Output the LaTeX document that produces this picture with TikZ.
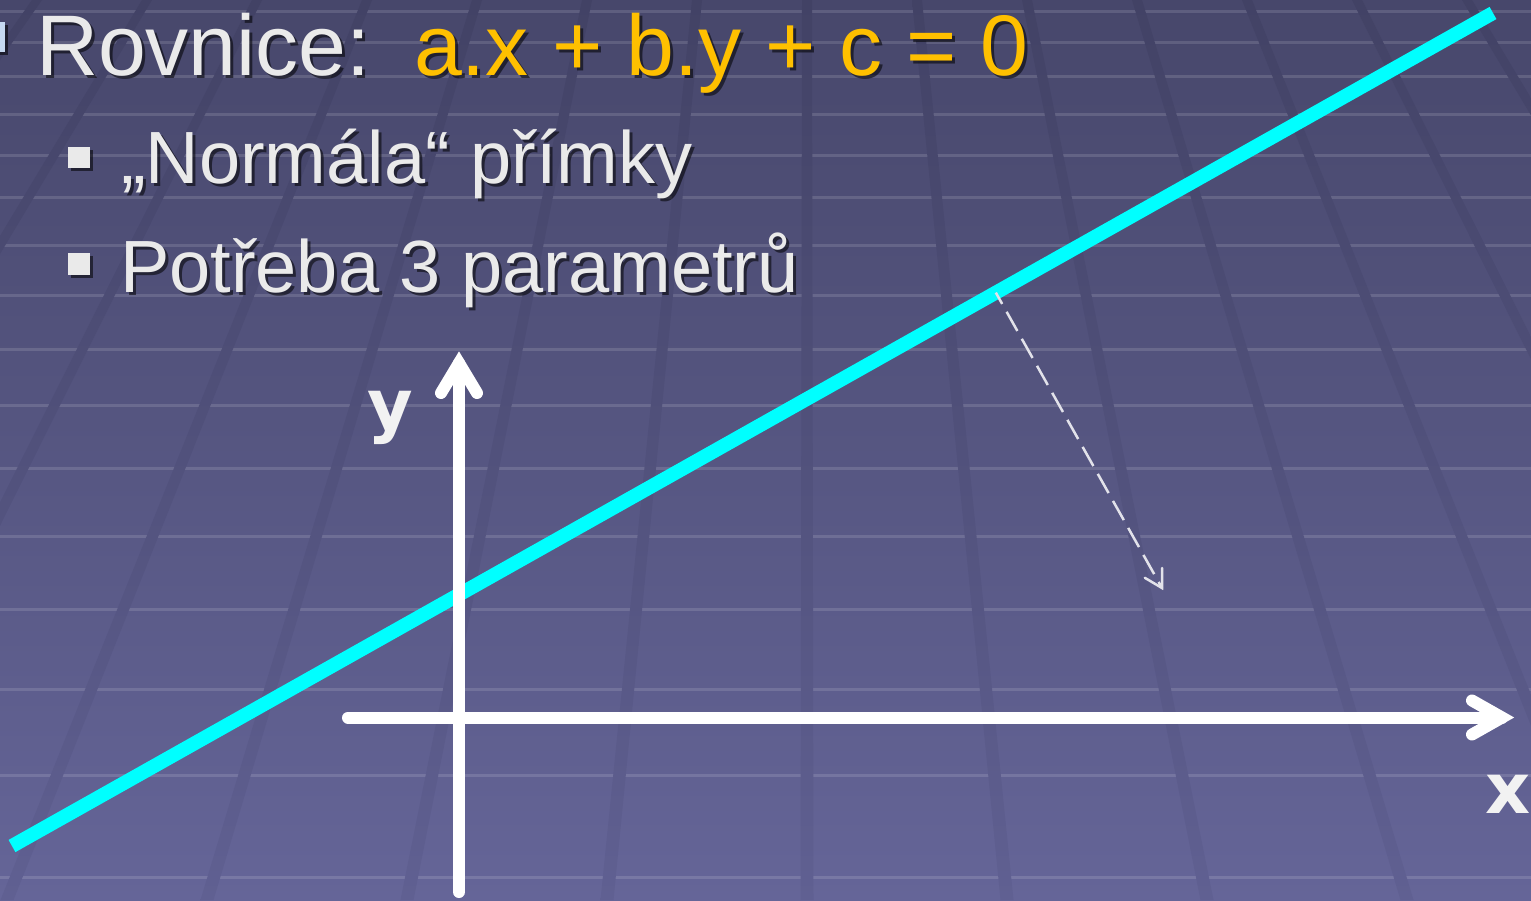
\documentclass[tikz,border=0pt]{standalone}
\usepackage{fontspec}
\setmainfont{Liberation Sans}
\newfontfamily\labfont{DejaVu Sans}
\definecolor{bgtop}{HTML}{47476B}
\definecolor{bgmid}{HTML}{575785}
\definecolor{bgbot}{HTML}{656598}
\definecolor{lntop}{HTML}{424265}
\definecolor{lnmid}{HTML}{52527D}
\definecolor{lnbot}{HTML}{606092}
\definecolor{txtc}{HTML}{EAEAEA}
\definecolor{orangec}{HTML}{FFC000}
\definecolor{cyanc}{HTML}{00FFFF}
\definecolor{dashc}{HTML}{E2E2EA}
\definecolor{bulletblue}{HTML}{C6D9F1}
\tikzset{
  hl/.style={white, opacity=0.13, line width=3pt},
  tiletrack/.style={top color=lntop, middle color=lnmid, bottom color=lnbot},
  txt/.style={anchor=base west, inner sep=0pt, outer sep=0pt, text=txtc},
  shadowtxt/.style={anchor=base west, inner sep=0pt, outer sep=0pt, text=black, opacity=0.55},
  titlefont/.style={font=\fontsize{86}{90}\selectfont},
  subfont/.style={font=\fontsize{74}{78}\selectfont},
  bulletsq/.style={fill=txtc},
  bulletsh/.style={fill=black, opacity=0.55},
  axisline/.style={draw=white, line width=12pt, line cap=round},
  axistip/.style={draw=white, line width=12pt, line cap=round, line join=miter},
  mainline/.style={draw=cyanc, line width=14pt},
  dashline/.style={draw=dashc, line width=2.5pt, dash pattern=on 22pt off 9pt, dash phase=9pt},
  dashtip/.style={draw=dashc, line width=2.5pt, line cap=round, line join=miter},
  axlab/.style={anchor=base west, inner sep=0pt, outer sep=0pt, text=white!95!black, font=\labfont\bfseries\fontsize{70}{72}\selectfont}
}
\begin{document}
\begin{tikzpicture}[x=1pt,y=-1pt]
\useasboundingbox (0,0) rectangle (1531,900);
\begin{scope}
\clip (0,0) rectangle (1531,900);
% background floor
\shade[top color=bgtop, middle color=bgmid, bottom color=bgbot] (0,0) rectangle (1531,900);
\foreach \yy in {11,42,76,114,155,197,245,295,349,405,468,536,609,689,775,877}
  \draw[hl] (0,\yy) -- (1531,\yy);
\foreach \k in {-7,...,7}
  \shade[tiletrack] ({807+110*\k-5},0) -- ({807+200*\k-6.5},900) -- ({807+200*\k+6.5},900) -- ({807+110*\k+5},0) -- cycle;
% first level bullet (cut at left edge)
\fill[bulletsh] (-22,25) rectangle (8,55);
\fill[bulletblue] (-25,22) rectangle (5,52);
\end{scope}

% line
\coordinate (L1) at (12,846);
\coordinate (L2) at (1493,13);
\draw[mainline] (L1) -- (L2);

% normal (dashed arrow)
\coordinate (P) at (995.8,292.6);
\coordinate (T) at (1162,588);
\coordinate (TwA) at (1162.2,568);
\coordinate (TwB) at (1144.8,577.8);
\draw[dashline] (P) -- (T);
\draw[dashtip] (TwB) -- (T) -- (TwA);

% axes
\coordinate (xl) at (348,717.5);
\coordinate (xtip) at (1502,717.5);
\coordinate (xwa) at (1472,700.5);
\coordinate (xwb) at (1472,734.5);
\coordinate (yb) at (459,892);
\coordinate (ytip) at (459,363);
\coordinate (ywa) at (441,393);
\coordinate (ywb) at (477,393);
\draw[axisline] (xl) -- (xtip);
\draw[axistip] (xwa) -- (xtip) -- (xwb);
\draw[axisline] (yb) -- (ytip);
\draw[axistip] (ywa) -- (ytip) -- (ywb);
\node[axlab] (ylab) at (367,429) {y};
\node[axlab] (xlab) at (1485,813) {x};

% text
\node[shadowtxt, titlefont] (t1s) at (39,78) {Rovnice:};
\node[txt, titlefont] (t1) at (36,75) {Rovnice:};
\node[shadowtxt, titlefont] (t2s) at (417,78) {a.x + b.y + c = 0};
\node[txt, titlefont, text=orangec] (t2) at (414,75) {a.x + b.y + c = 0};

\fill[bulletsh] (71,150) rectangle (93,171);
\fill[bulletsq] (68,147) rectangle (90,168);
\node[shadowtxt, subfont] (s1s) at (124,186) {„Normála“ přímky};
\node[txt, subfont] (s1) at (121,183) {„Normála“ přímky};

\fill[bulletsh] (71,256) rectangle (93,278);
\fill[bulletsq] (68,253) rectangle (90,275);
\node[shadowtxt, subfont] (s2s) at (123,295) {Potřeba 3 parametrů};
\node[txt, subfont] (s2) at (120,292) {Potřeba 3 parametrů};
\end{tikzpicture}
\end{document}
